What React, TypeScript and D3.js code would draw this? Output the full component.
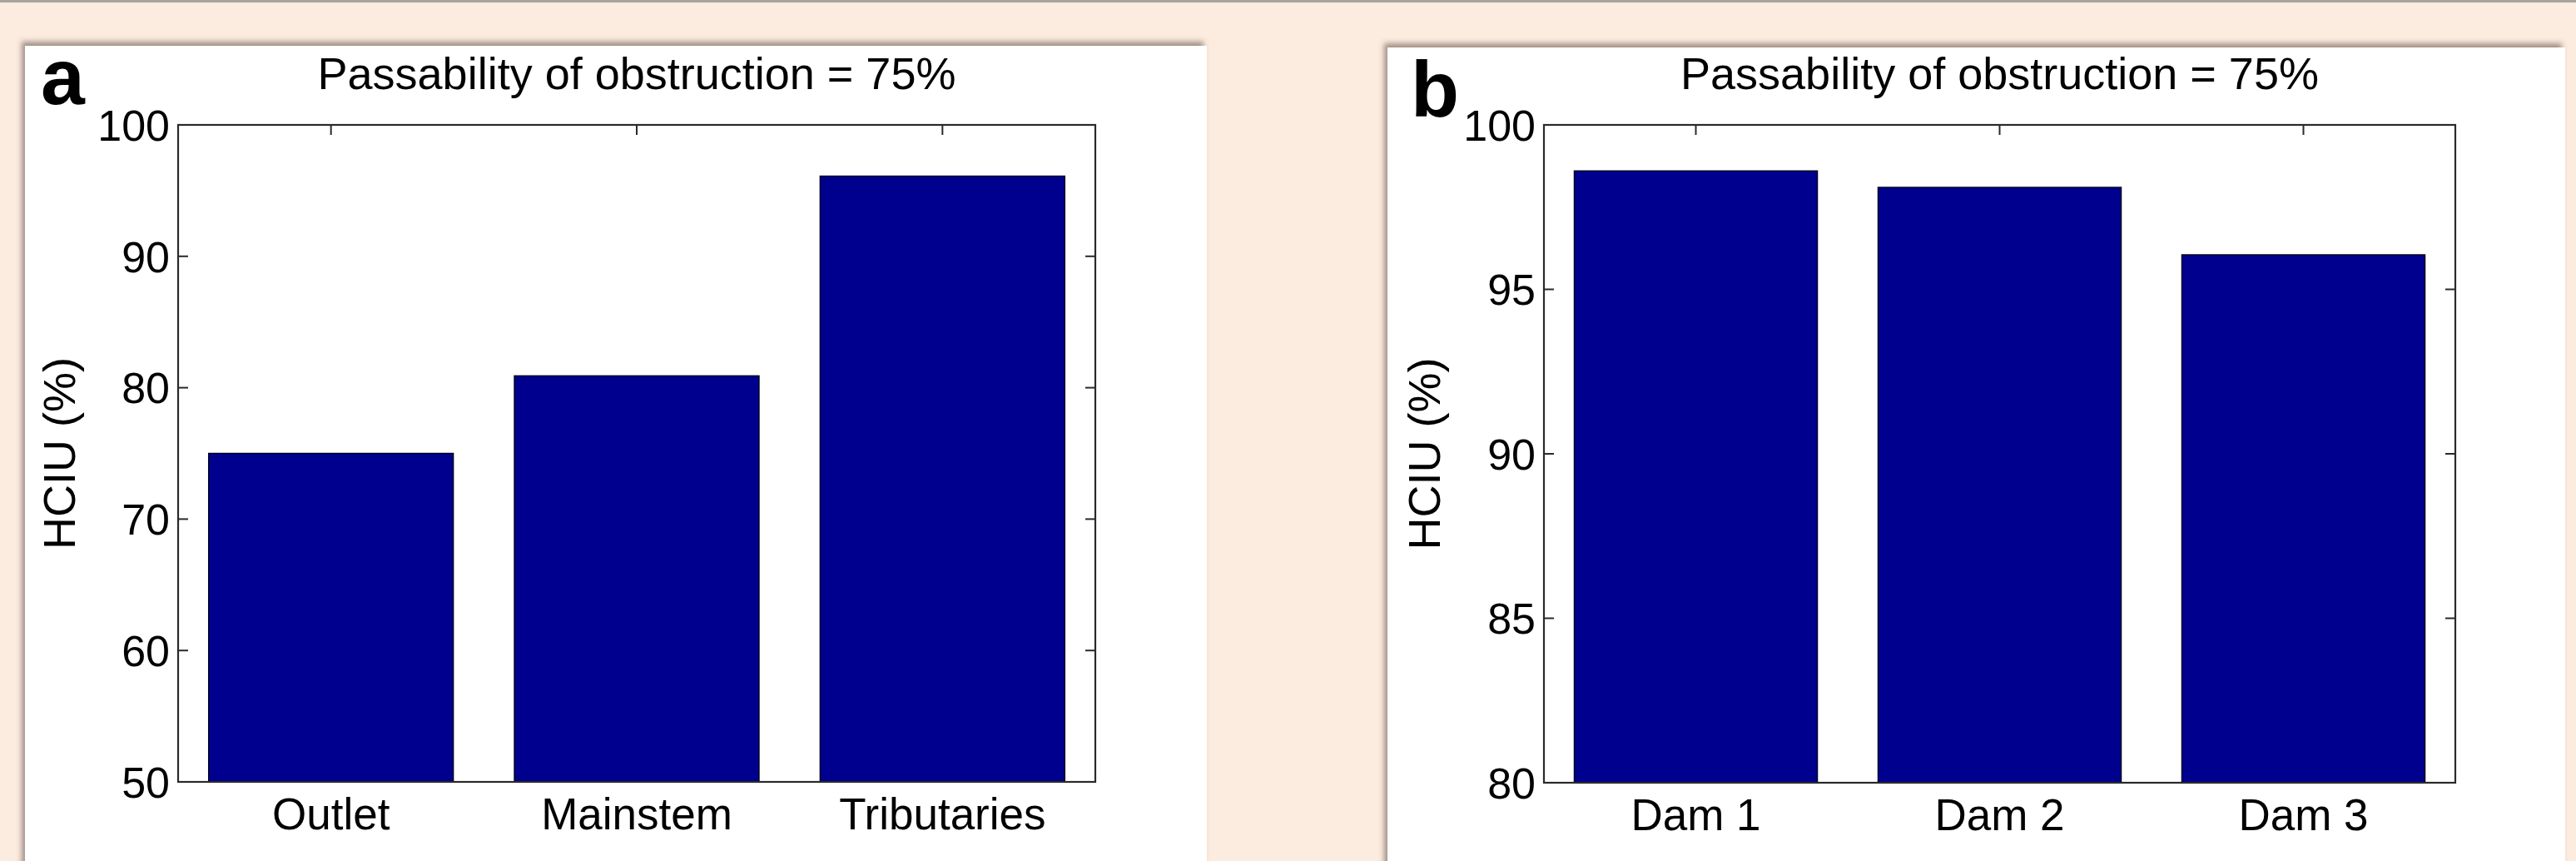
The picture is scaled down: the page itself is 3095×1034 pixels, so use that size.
import React from "react";
import * as d3 from "d3";

const categoriesA = ["Outlet", "Mainstem", "Tributaries"];
const valuesA = [75.0, 80.9, 96.1];
const ticksA = [50, 60, 70, 80, 90, 100];
const domainA: [number, number] = [50, 100];

const categoriesB = ["Dam 1", "Dam 2", "Dam 3"];
const valuesB = [98.6, 98.1, 96.05];
const ticksB = [80, 85, 90, 95, 100];
const domainB: [number, number] = [80, 100];

const titleText = "Passability of obstruction = 75%";
const yLabelText = "HCIU (%)";

const W = 3095;
const H = 1034;
const FONT = "'Liberation Sans', Arial, Helvetica, sans-serif";

type PanelProps = {
  letter: string;
  letterX: number;
  letterY: number;
  box: { x0: number; y0: number; x1: number };
  axes: { x0: number; x1: number; y0: number; y1: number };
  cats: string[];
  vals: number[];
  ticks: number[];
  domain: [number, number];
  yLabelX: number;
};

function Panel(p: PanelProps) {
  const { axes } = p;
  const x = d3
    .scaleBand<string>()
    .domain(p.cats)
    .range([axes.x0, axes.x1])
    .paddingInner(0.2)
    .paddingOuter(0.1);
  const y = d3.scaleLinear().domain(p.domain).range([axes.y1, axes.y0]);
  const tickLen = 12;
  const axisColor = "#2a2a2a";
  return (
    <g>
      <rect
        x={p.box.x0}
        y={p.box.y0}
        width={p.box.x1 - p.box.x0}
        height={H - p.box.y0 + 20}
        fill="#ffffff"
        filter="url(#shadow)"
      />
      {/* ticks (under bars) */}
      {p.ticks.map((t) => (
        <g key={"t" + t}>
          <line x1={axes.x0} x2={axes.x0 + tickLen} y1={y(t)} y2={y(t)} stroke={axisColor} strokeWidth={2} />
          <line x1={axes.x1} x2={axes.x1 - tickLen} y1={y(t)} y2={y(t)} stroke={axisColor} strokeWidth={2} />
        </g>
      ))}
      {p.cats.map((c) => {
        const cx = (x(c) as number) + x.bandwidth() / 2;
        return (
          <g key={"xt" + c}>
            <line x1={cx} x2={cx} y1={axes.y0} y2={axes.y0 + tickLen} stroke={axisColor} strokeWidth={2} />
            <line x1={cx} x2={cx} y1={axes.y1} y2={axes.y1 - tickLen} stroke={axisColor} strokeWidth={2} />
          </g>
        );
      })}
      {/* bars */}
      {p.cats.map((c, i) => (
        <rect
          key={"b" + c}
          x={x(c) as number}
          y={y(p.vals[i])}
          width={x.bandwidth()}
          height={y(p.domain[0]) - y(p.vals[i])}
          fill="#00008f"
          stroke="#000022"
          strokeWidth={1.5}
        />
      ))}
      {/* axes box */}
      <rect
        x={axes.x0}
        y={axes.y0}
        width={axes.x1 - axes.x0}
        height={axes.y1 - axes.y0}
        fill="none"
        stroke={axisColor}
        strokeWidth={2.2}
      />
      {/* y tick labels */}
      {p.ticks.map((t) => (
        <text
          key={"yl" + t}
          x={axes.x0 - 10}
          y={y(t)}
          dy="0.36em"
          textAnchor="end"
          fontFamily={FONT}
          fontSize={52}
          fill="#000"
        >
          {t}
        </text>
      ))}
      {/* x tick labels */}
      {p.cats.map((c) => (
        <text
          key={"xl" + c}
          x={(x(c) as number) + x.bandwidth() / 2}
          y={axes.y1 + 57}
          textAnchor="middle"
          fontFamily={FONT}
          fontSize={53}
          fill="#000"
        >
          {c}
        </text>
      ))}
      {/* title */}
      <text
        x={(axes.x0 + axes.x1) / 2}
        y={107}
        textAnchor="middle"
        fontFamily={FONT}
        fontSize={54}
        fill="#000"
      >
        {titleText}
      </text>
      {/* y label */}
      <text
        transform={`translate(${p.yLabelX},${(axes.y0 + axes.y1) / 2}) rotate(-90)`}
        textAnchor="middle"
        fontFamily={FONT}
        fontSize={54}
        fill="#000"
      >
        {yLabelText}
      </text>
      {/* panel letter */}
      <text x={p.letterX} y={p.letterY} fontFamily={FONT} fontWeight="bold" fontSize={95} fill="#000">
        {p.letter}
      </text>
    </g>
  );
}

export default function App() {
  React.useEffect(() => {
    document.body.style.margin = "0";
    document.body.style.overflow = "hidden";
  }, []);
  return (
    <svg
      width={W}
      height={H}
      viewBox={`0 0 ${W} ${H}`}
      style={{ position: "absolute", left: 0, top: 0, display: "block" }}
    >
      <defs>
        <filter id="shadow" x="-5%" y="-5%" width="110%" height="110%">
          <feDropShadow dx={-4} dy={-5} stdDeviation={3} floodColor="#5a4a40" floodOpacity={0.55} />
        </filter>
      </defs>
      <rect x={0} y={0} width={W} height={H} fill="#fcebdf" />
      <rect x={0} y={0} width={W} height={3} fill="#a8a4a0" />
      <Panel
        letter="a"
        letterX={49}
        letterY={125}
        box={{ x0: 30, y0: 55, x1: 1450 }}
        axes={{ x0: 214, x1: 1316, y0: 150, y1: 939 }}
        cats={categoriesA}
        vals={valuesA}
        ticks={ticksA}
        domain={domainA}
        yLabelX={90}
      />
      <Panel
        letter="b"
        letterX={1695}
        letterY={140}
        box={{ x0: 1667, y0: 57, x1: 3082 }}
        axes={{ x0: 1855, x1: 2950, y0: 150, y1: 940 }}
        cats={categoriesB}
        vals={valuesB}
        ticks={ticksB}
        domain={domainB}
        yLabelX={1730}
      />
    </svg>
  );
}
